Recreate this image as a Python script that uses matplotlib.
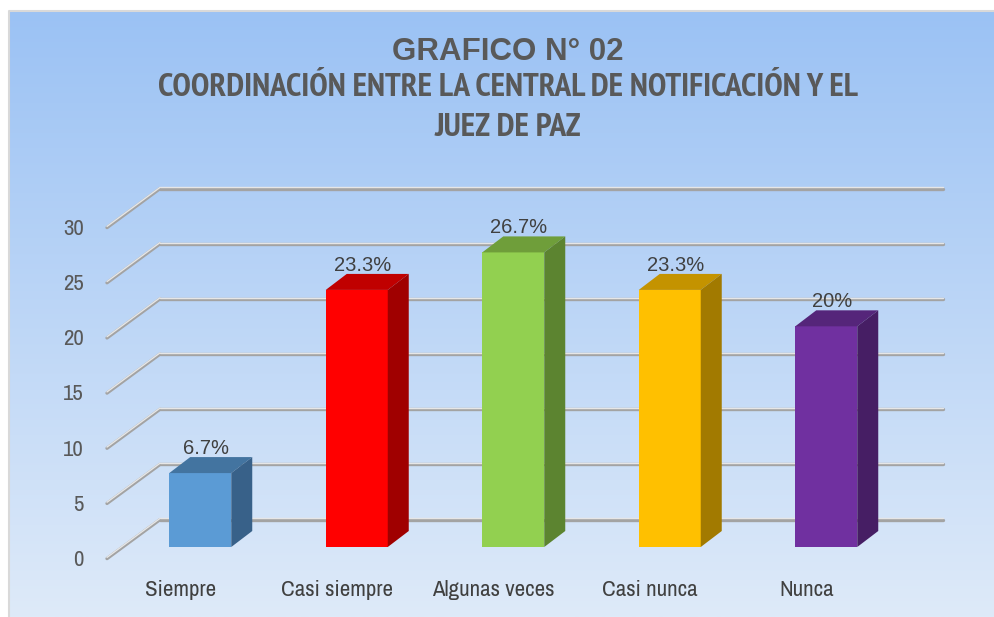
import matplotlib.pyplot as plt
import numpy as np
from matplotlib import font_manager
from matplotlib.patches import Polygon
from matplotlib.transforms import ScaledTranslation

# Datos del grafico
categorias = ['Siempre', 'Casi siempre', 'Algunas veces', 'Casi nunca', 'Nunca']
valores = [6.7, 23.3, 26.7, 23.3, 20]
etiquetas = ['6.7%', '23.3%', '26.7%', '23.3%', '20%']
y_ticks = [0, 5, 10, 15, 20, 25, 30]

# colores de cada barra: frente, tapa, lado
c_frente = ['#5B9BD5', '#FF0000', '#92D050', '#FFC000', '#7030A0']
c_tapa = ['#4374A0', '#C00000', '#6F9E3A', '#C49300', '#55257A']
c_lado = ['#386189', '#A00000', '#5C8430', '#A27A00', '#461E64']

titulo = 'GRAFICO N° 02'
subtitulo = ['COORDINACIÓN ENTRE LA CENTRAL DE NOTIFICACIÓN Y EL', 'JUEZ DE PAZ']

# fuentes angostas (tipo Arial Narrow) si hay alguna instalada
candidatas = ['Liberation Sans Narrow', 'Arial Narrow', 'Archivo Narrow', 'PT Sans Narrow',
              'Roboto Condensed', 'Barlow Condensed', 'Encode Sans Condensed',
              'IBM Plex Sans Condensed', 'Open Sans Condensed', 'Noto Sans Condensed']

def peso(f):
    w = f.weight
    if isinstance(w, str):
        w = font_manager.weight_dict.get(w, 400)
    return w

pesos = {}
for f in font_manager.fontManager.ttflist:
    if f.style == 'normal':
        pesos.setdefault(f.name, set()).add(peso(f))

angosta = next((n for n in candidatas if n in pesos), 'Liberation Sans')
angosta_bold = next((n for n in candidatas if n in pesos and max(pesos[n]) >= 700),
                    'Liberation Sans')

DPI = 100
fig = plt.figure(figsize=(9.95, 6.17), dpi=DPI)
W, H = 995, 617

# fondo degradado
bg = fig.add_axes([9 / W, 0, 986 / W, 606 / H], zorder=0)
grad = np.linspace(0, 1, 256).reshape(-1, 1)
top = np.array([0x9B, 0xC2, 0xF4]) / 255
bot = np.array([0xDE, 0xEA, 0xF9]) / 255
img = top + (bot - top) * grad[:, :, None]
bg.imshow(img, aspect='auto', extent=[0, 1, 0, 1])
bg.axis('off')
fig.add_artist(plt.Line2D([9 / W, 9 / W, 1], [0, 606 / H, 606 / H], color='#D9D9D9', lw=1.5))

# ejes principales (plano frontal de las barras)
ax = fig.add_axes([122 / W, 70 / H, 782.5 / W, 331 / H], zorder=1)
ax.set_xlim(-0.5, 4.5)
ax.set_ylim(0, 30)
ax.patch.set_alpha(0)
for s in ax.spines.values():
    s.set_visible(False)
ax.set_xticks([])
ax.set_yticks([])

px_x = 782.5 / 5
px_y = 331 / 30

def off(dx, dy):
    return ax.transData + ScaledTranslation(dx / DPI, dy / DPI, fig.dpi_scale_trans)

# profundidad (pixeles)
fondo_dx, fondo_dy = 38, 28
frente_dx, frente_dy = -15, -11
bar_dx, bar_dy = 21, 16

x = np.arange(len(categorias))
x0, x1 = -0.5, 4.5

# lineas de division (pared del fondo + diagonales)
for v in y_ticks:
    for col, lw, sh in [('#A3A3A3', 2.4, -0.6), ('#E6E6E6', 1.0, 0.6)]:
        tr = off(fondo_dx, fondo_dy + sh)
        ax.plot([x0, x1], [v, v], color=col, lw=lw, transform=tr, clip_on=False, zorder=1,
                solid_capstyle='round')
        ax.plot([x0 + (frente_dx - fondo_dx) / px_x, x0], [v + (frente_dy - fondo_dy) / px_y, v],
                color=col, lw=lw, transform=tr, clip_on=False, zorder=1, solid_capstyle='round')
    ax.text(x0, v, str(v), transform=off(-38, -13), ha='right', va='center',
            fontsize=16.5, color='#595959', family=angosta)

# barras 3D
ancho = 62 / px_x
ddx = bar_dx / px_x
ddy = bar_dy / px_y
ax.bar(x, valores, width=ancho, color=c_frente, zorder=3, edgecolor='none')
for i, v in enumerate(valores):
    a = x[i] - ancho / 2
    b = x[i] + ancho / 2
    ax.add_patch(Polygon([(a, v), (b, v), (b + ddx, v + ddy), (a + ddx, v + ddy)],
                         closed=True, facecolor=c_tapa[i], edgecolor='none', zorder=3))
    ax.add_patch(Polygon([(b, 0), (b, v), (b + ddx, v + ddy), (b + ddx, ddy)],
                         closed=True, facecolor=c_lado[i], edgecolor='none', zorder=3))
    ax.text(x[i] + ddx / 2, v + ddy, etiquetas[i], transform=off(-5, 3), ha='center',
            va='baseline', fontsize=14.5, color='#404040', family='Liberation Sans', zorder=4)
    ax.text(x[i], 0, categorias[i], transform=off(-20, -43), ha='center', va='center',
            fontsize=16.5, color='#404040', family=angosta)

# titulo (centrado un poco a la derecha, como en el original)
xc = 508 / W
fig.text(xc, 1 - 51.5 / H, titulo, ha='center', va='center', fontsize=22.5,
         fontweight='bold', color='#595959', family='Liberation Sans')
t2 = fig.text(xc, 1 - 88 / H, subtitulo[0], ha='center', va='center', fontsize=20,
              fontweight='bold', color='#595959', family=angosta_bold)
# ajustar al ancho del original (~775 px)
r = fig.canvas.get_renderer()
ancho_t2 = t2.get_window_extent(r).width
tam = min(24, 20 * 775 / ancho_t2)
t2.set_fontsize(tam)
fig.text(xc, 1 - 127.5 / H, subtitulo[1], ha='center', va='center', fontsize=tam,
         fontweight='bold', color='#595959', family=angosta_bold)

fig.savefig('out.png', dpi=DPI)
